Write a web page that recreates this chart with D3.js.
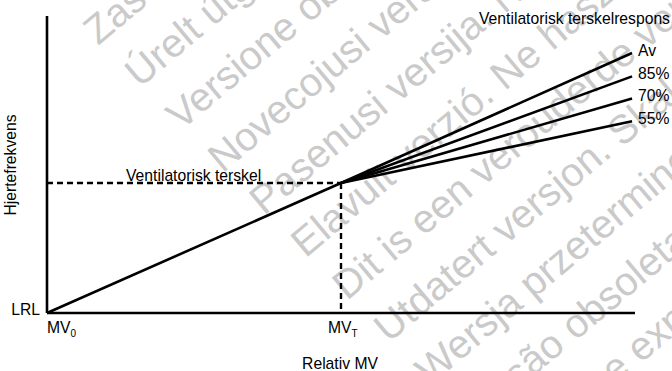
<!DOCTYPE html>
<html>
<head>
<meta charset="utf-8">
<script src="https://cdn.jsdelivr.net/npm/d3@7"></script>
<style>
  html, body { margin: 0; padding: 0; background: #fff; }
  svg { display: block; }
  text { font-family: "Liberation Sans", Arial, sans-serif; }
</style>
</head>
<body>
<svg id="chart" width="672" height="371"></svg>
<script>
// Relative minute ventilation positions: MV0, MVT and the end of the axis
const mvTicks = ["MV", "MV"];
const mvSubs = ["0", "T"];
const mvValues = [0, 1];
const mvAxisEnd = 2;
const mvLineEnd = 1.99;

// Heart rate: LRL at 0, ventilatory threshold at 1
const rateAtThreshold = 1;
const rateAxisTop = 2.285;

// Response slopes above the threshold (rate reached at the end of the line)
const responseLabels = ["Av", "85%", "70%", "55%"];
const responseEnd = [2.0, 1.82, 1.65, 1.475];

// Obsolete-version notice printed diagonally across the page
const noticeLines = [
  "Zastaralá verze. Nepoužívat.",
  "Úrelt útgáfa. Notið ekki.",
  "Versione obsoleta. Non utilizzare.",
  "Novecojusi versija. Neizmantot.",
  "Pasenusi versija. Nenaudokite.",
  "Elavult verzió. Ne használja!",
  "Dit is een verouderde versie. Niet gebruiken.",
  "Utdatert versjon. Skal ikke brukes.",
  "Wersja przeterminowana. Nie używać.",
  "Versão obsoleta. Não utilize.",
  "Versiune expirată. A nu se utiliza."
];

const svg = d3.select("#chart");
const FS = 15.7;

const x = d3.scaleLinear().domain([0, mvAxisEnd]).range([47, 635]);
const y = d3.scaleLinear().domain([0, rateAtThreshold]).range([313, 183]);

// Notice layer (behind the chart)
const notice = svg.append("g");
noticeLines.forEach((t, i) => {
  const px = 98 + i * 41.5, py = 46 + i * 42.5;
  notice.append("text")
    .attr("transform", `translate(${px},${py}) rotate(-40)`)
    .attr("font-size", 40)
    .attr("fill", "#cacaca")
    .text(t);
});

// Axes
svg.append("line")
  .attr("x1", x(0)).attr("x2", x(0))
  .attr("y1", y(0)).attr("y2", y(rateAxisTop))
  .attr("stroke", "#000").attr("stroke-width", 2.6);
svg.append("line")
  .attr("x1", x(0)).attr("x2", x(mvAxisEnd))
  .attr("y1", y(0)).attr("y2", y(0))
  .attr("stroke", "#000").attr("stroke-width", 2.6);

// Threshold guides
svg.append("line")
  .attr("x1", x(0)).attr("x2", x(mvValues[1]))
  .attr("y1", y(rateAtThreshold)).attr("y2", y(rateAtThreshold))
  .attr("stroke", "#000").attr("stroke-width", 2.4)
  .attr("stroke-dasharray", "6,4");
svg.append("line")
  .attr("x1", x(mvValues[1])).attr("x2", x(mvValues[1]))
  .attr("y1", y(rateAtThreshold)).attr("y2", y(0))
  .attr("stroke", "#000").attr("stroke-width", 2.4)
  .attr("stroke-dasharray", "6,4");

// Rate response lines
const line = d3.line().x(d => x(d[0])).y(d => y(d[1]));
svg.append("path")
  .attr("d", line([[mvValues[0], 0], [mvValues[1], rateAtThreshold]]))
  .attr("fill", "none").attr("stroke", "#000").attr("stroke-width", 2.6);
responseEnd.forEach((v, i) => {
  svg.append("path")
    .attr("d", line([[mvValues[1], rateAtThreshold], [mvLineEnd, v]]))
    .attr("fill", "none").attr("stroke", "#000").attr("stroke-width", 2.6)
    .attr("stroke-linecap", "butt");
  svg.append("text")
    .attr("x", x(mvLineEnd) + 6)
    .attr("y", y(v) + 2.5)
    .attr("font-size", FS)
    .text(responseLabels[i]);
});

// Labels
svg.append("text")
  .attr("x", 479).attr("y", 24)
  .attr("font-size", FS)
  .text("Ventilatorisk terskelrespons");
svg.append("text")
  .attr("x", 126).attr("y", 181)
  .attr("font-size", FS)
  .text("Ventilatorisk terskel");
svg.append("text")
  .attr("x", x(0) - 7).attr("y", y(0) + 1.5)
  .attr("text-anchor", "end")
  .attr("font-size", FS)
  .text("LRL");

mvValues.forEach((v, i) => {
  const t = svg.append("text")
    .attr("x", i === 0 ? x(v) : x(v) - 13)
    .attr("y", 333)
    .attr("font-size", FS);
  t.append("tspan").text(mvTicks[i]);
  t.append("tspan").attr("font-size", 10).attr("dy", 3.5).text(mvSubs[i]);
});

svg.append("text")
  .attr("x", 340).attr("y", 369)
  .attr("text-anchor", "middle")
  .attr("font-size", FS)
  .text("Relativ MV");

svg.append("text")
  .attr("transform", `translate(16,165) rotate(-90)`)
  .attr("text-anchor", "middle")
  .attr("font-size", FS)
  .text("Hjertefrekvens");
</script>
</body>
</html>
